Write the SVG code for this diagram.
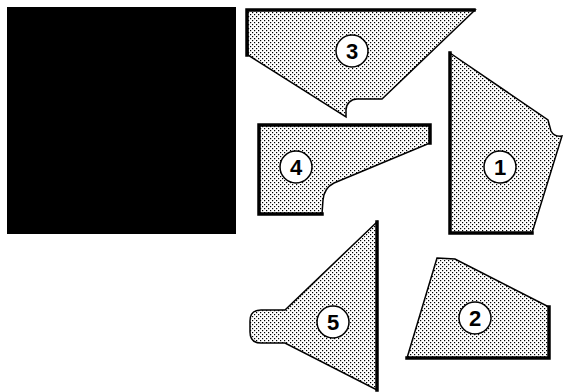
<svg xmlns="http://www.w3.org/2000/svg" width="564" height="392" viewBox="0 0 564 392">
<defs>
<pattern id="dots" width="4" height="4" patternUnits="userSpaceOnUse">
<rect width="4" height="4" fill="#fff"/>
<rect x="0" y="0" width="1.2" height="1.2" fill="#000"/>
<rect x="2" y="2" width="1.2" height="1.2" fill="#000"/>
</pattern>
</defs>
<style>
.piece{fill:url(#dots);stroke:#000;stroke-width:1.5;stroke-linejoin:miter}
.thick{fill:none;stroke:#000;stroke-width:3.5;stroke-linecap:square}
.lab circle{fill:#fff;stroke:#000;stroke-width:1.5}
.lab text{font-family:"Liberation Sans",Arial,sans-serif;font-weight:bold;font-size:22px;text-anchor:middle;fill:#000}
</style>
<rect width="564" height="392" fill="#fff"/>
<g id="square"><rect x="7" y="7" width="229" height="227" fill="#000"/></g>
<g id="piece3">
<path class="piece" d="M247,10 L475,10 L382,99 L357,99 A11,11 0 0 0 346,110 L346,117 L248,55 Z"/>
<path class="thick" d="M247,55 L247,10 L474,10"/>
<g class="lab"><circle cx="352" cy="51" r="16"/><text x="352" y="59">3</text></g>
</g>
<g id="piece4">
<path class="piece" d="M259,125 L430,125 L430,143 L334,183 Q324,188 323,200 L322,214 L259,214 Z"/>
<path class="thick" d="M322,214 L259,214 L259,125 L430,125 L430,143"/>
<g class="lab"><circle cx="296" cy="167" r="16"/><text x="296" y="175">4</text></g>
</g>
<g id="piece1">
<path class="piece" d="M450,53 L548,120 L551,131 Q554,137 562,136 L532,233 L450,233 Z"/>
<path class="thick" d="M450,53 L450,233 L532,233"/>
<g class="lab"><circle cx="500" cy="167" r="16"/><text x="500" y="175">1</text></g>
</g>
<g id="piece2">
<path class="piece" d="M437,258 L455,259 L549,307 L549,358 L407,358 Z"/>
<path class="thick" d="M549,307 L549,358 L407,358"/>
<g class="lab"><circle cx="475" cy="318" r="16"/><text x="475" y="326">2</text></g>
</g>
<g id="piece5">
<path class="piece" d="M377,222 L377,390 L285,343 L261,343 Q250,343 250,332 L250,321 Q250,310 261,310 L285,310 Z"/>
<path class="thick" d="M377,222 L377,390"/>
<g class="lab"><circle cx="333" cy="322" r="16"/><text x="333" y="330">5</text></g>
</g>
</svg>
